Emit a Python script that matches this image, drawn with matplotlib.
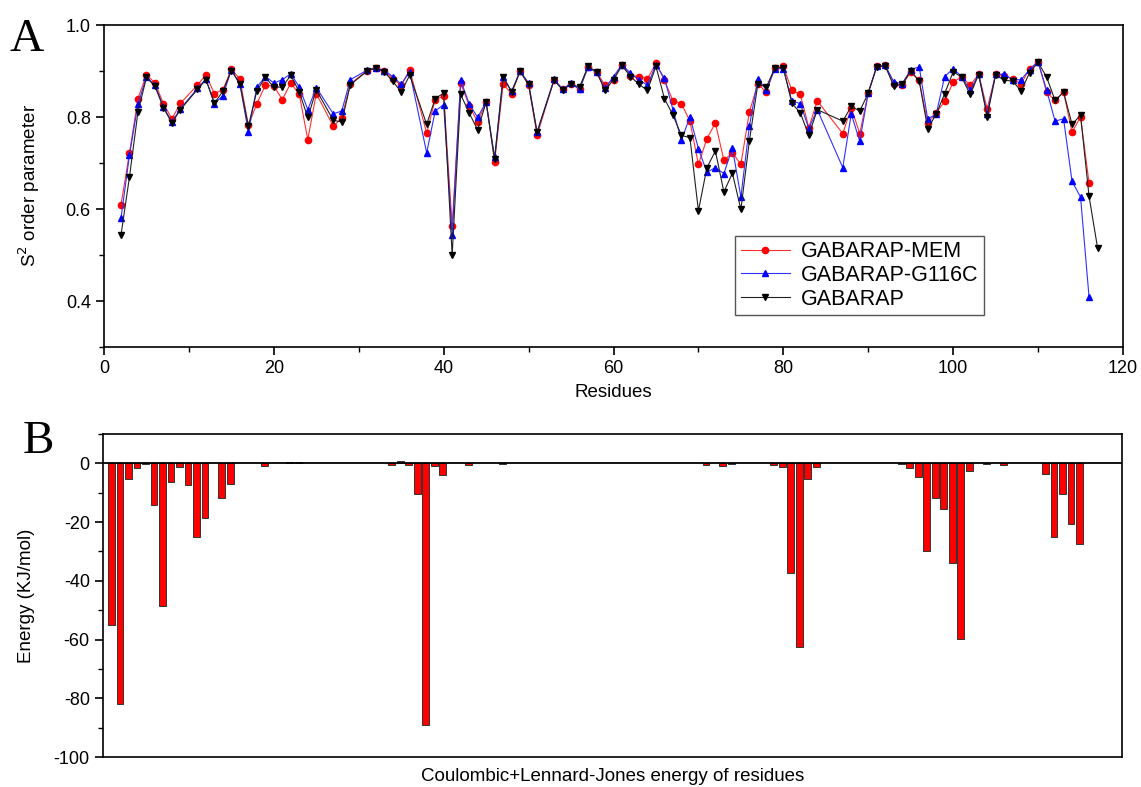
import matplotlib
matplotlib.use("Agg")
import matplotlib.pyplot as plt
from matplotlib.ticker import MultipleLocator
import numpy as np

# ---------------- data ----------------
residues_AB = [2, 3, 4, 5, 6, 7, 8, 9, 11, 12, 13, 14, 15, 16, 17, 18, 19, 20, 21, 22, 23, 24, 25,
               27, 28, 29, 31, 32, 33, 34, 35, 36, 38, 39, 40, 41, 42, 43, 44, 45, 46, 47, 48, 49,
               50, 51, 53, 54, 55, 56, 57, 58, 59, 60, 61, 62, 63, 64, 65, 66, 67, 68, 69, 70, 71,
               72, 73, 74, 75, 76, 77, 78, 79, 80, 81, 82, 83, 84, 87, 88, 89, 90, 91, 92, 93, 94,
               95, 96, 97, 98, 99, 100, 101, 102, 103, 104, 105, 106, 107, 108, 109, 110, 111, 112,
               113, 114, 115, 116]
residues_wt = residues_AB + [117]

s2_mem = [0.609, 0.722, 0.840, 0.892, 0.874, 0.829, 0.796, 0.830, 0.869, 0.892, 0.851, 0.859, 0.904,
          0.883, 0.782, 0.829, 0.869, 0.867, 0.838, 0.874, 0.849, 0.751, 0.851,
          0.780, 0.798, 0.872, 0.901, 0.907, 0.900, 0.883, 0.869, 0.903, 0.765, 0.838, 0.845,
          0.564, 0.874, 0.825, 0.789, 0.833, 0.702, 0.871, 0.851, 0.900,
          0.869, 0.760, 0.881, 0.861, 0.872, 0.861, 0.909, 0.898, 0.869, 0.881, 0.914, 0.890,
          0.888, 0.883, 0.917, 0.880, 0.835, 0.829, 0.791, 0.697, 0.753,
          0.787, 0.706, 0.722, 0.697, 0.811, 0.872, 0.854, 0.907, 0.910, 0.858, 0.849, 0.777,
          0.835, 0.764, 0.820, 0.764, 0.853, 0.910, 0.912, 0.872, 0.869,
          0.898, 0.880, 0.787, 0.809, 0.834, 0.876, 0.887, 0.869, 0.893, 0.818, 0.893, 0.890,
          0.883, 0.872, 0.905, 0.920, 0.854, 0.836,
          0.854, 0.767, 0.800, 0.657]

s2_g116c = [0.580, 0.717, 0.828, 0.887, 0.869, 0.822, 0.789, 0.818, 0.862, 0.883, 0.829, 0.846, 0.903,
            0.872, 0.767, 0.865, 0.888, 0.874, 0.881, 0.894, 0.865, 0.816, 0.864,
            0.807, 0.813, 0.881, 0.902, 0.907, 0.901, 0.888, 0.871, 0.898, 0.722, 0.813, 0.827,
            0.543, 0.880, 0.829, 0.799, 0.833, 0.712, 0.888, 0.856, 0.900,
            0.874, 0.767, 0.882, 0.861, 0.873, 0.860, 0.908, 0.897, 0.862, 0.888, 0.914, 0.895,
            0.881, 0.869, 0.914, 0.884, 0.816, 0.749, 0.801, 0.731, 0.680,
            0.690, 0.677, 0.733, 0.626, 0.780, 0.883, 0.859, 0.905, 0.905, 0.835, 0.829, 0.775,
            0.816, 0.690, 0.807, 0.747, 0.853, 0.910, 0.912, 0.877, 0.872,
            0.903, 0.909, 0.796, 0.806, 0.888, 0.905, 0.888, 0.858, 0.893, 0.807, 0.893, 0.893,
            0.881, 0.881, 0.903, 0.920, 0.859, 0.791,
            0.796, 0.660, 0.626, 0.409]

s2_wt = [0.543, 0.670, 0.811, 0.886, 0.867, 0.820, 0.787, 0.816, 0.860, 0.881, 0.830, 0.856, 0.901,
         0.872, 0.780, 0.857, 0.886, 0.865, 0.865, 0.891, 0.854, 0.799, 0.859,
         0.793, 0.789, 0.870, 0.900, 0.906, 0.898, 0.878, 0.854, 0.891, 0.784, 0.840, 0.852,
         0.499, 0.849, 0.809, 0.772, 0.832, 0.708, 0.887, 0.854, 0.899,
         0.871, 0.767, 0.880, 0.859, 0.871, 0.865, 0.910, 0.898, 0.858, 0.881, 0.912, 0.888,
         0.871, 0.858, 0.910, 0.840, 0.804, 0.760, 0.755, 0.596, 0.690,
         0.726, 0.637, 0.678, 0.599, 0.748, 0.872, 0.865, 0.907, 0.907, 0.830, 0.809, 0.760,
         0.816, 0.791, 0.823, 0.813, 0.852, 0.909, 0.911, 0.867, 0.872,
         0.900, 0.878, 0.775, 0.806, 0.851, 0.898, 0.887, 0.849, 0.892, 0.801, 0.892, 0.880,
         0.878, 0.857, 0.896, 0.919, 0.887, 0.836,
         0.854, 0.784, 0.804, 0.628, 0.516]

energy_pos = [1, 2, 3, 4, 5, 6, 7, 8, 9, 10, 11, 12, 14, 15, 19, 22, 23,
              34, 35, 36, 37, 38, 39, 40, 43, 47,
              71, 73, 74, 79, 80, 81, 82, 83, 84,
              94, 95, 96, 97, 98, 99, 100, 101, 102, 104, 106,
              111, 112, 113, 114, 115]
energy_val = [-55.0, -82.1, -5.3, -1.6, -0.3, -14.3, -48.7, -6.5, -1.1, -7.5, -25.1, -18.7, -11.9, -6.9, -0.9, 0.3, 0.3,
              -0.5, 0.9, -0.5, -10.5, -89.0, -0.9, -4.0, -0.7, -0.3,
              -0.5, -0.8, -0.3, -0.5, -1.2, -37.5, -62.6, -5.3, -1.1,
              -0.2, -1.7, -4.6, -30.0, -11.7, -15.6, -33.9, -59.7, -2.6, -0.3, -0.6,
              -3.6, -25.0, -10.5, -20.5, -27.6]

# ---------------- figure ----------------
plt.rcParams['font.family'] = ['Liberation Sans', 'DejaVu Sans']
plt.rcParams['axes.unicode_minus'] = False
W, H = 1141, 787
fig = plt.figure(figsize=(W / 100, H / 100), dpi=100)

axA = fig.add_axes([104 / W, 1 - 347 / H, 1019 / W, 322 / H])
axB = fig.add_axes([103 / W, 1 - 757 / H, 1019 / W, 323 / H])

# Panel A
axA.plot(residues_AB, s2_mem, color='#ff3030', lw=0.8, marker='o', ms=4.5,
         mfc='#ff0000', mec='#ff0000', label='GABARAP-MEM', zorder=3)
axA.plot(residues_AB, s2_g116c, color='#3030ff', lw=0.8, marker='^', ms=5,
         mfc='#0000ff', mec='#0000ff', label='GABARAP-G116C', zorder=4)
axA.plot(residues_wt, s2_wt, color='#202020', lw=0.8, marker='v', ms=5,
         mfc='black', mec='black', label='GABARAP', zorder=5)

axA.set_xlim(0, 120)
axA.set_ylim(0.3, 1.0)
axA.xaxis.set_major_locator(MultipleLocator(20))
axA.xaxis.set_minor_locator(MultipleLocator(10))
axA.yaxis.set_minor_locator(MultipleLocator(0.1))
axA.set_yticks([0.4, 0.6, 0.8, 1.0])
axA.tick_params(which='major', direction='out', length=6, width=1.2, labelsize=13)
axA.tick_params(which='minor', direction='out', length=3.5, width=1.0)
axA.set_xlabel('Residues', fontsize=13.5)
axA.set_ylabel('S$^2$ order parameter', fontsize=13.5)
axA.xaxis.set_label_coords(0.5, -0.115)
axA.yaxis.set_label_coords(-0.061, 0.5)
for sp in axA.spines.values():
    sp.set_linewidth(1.2)
leg = axA.legend(loc='lower left', bbox_to_anchor=(0.609, 0.066), fontsize=15.5,
                 fancybox=False, edgecolor='#555555', framealpha=1, handlelength=2.3,
                 borderpad=0.25, labelspacing=0.12, handletextpad=0.5)
leg.get_frame().set_linewidth(1.0)

# Panel B
axB.bar(energy_pos, energy_val, width=0.8, color='#ff0000', edgecolor='#333333',
        linewidth=0.7, zorder=3)
axB.axhline(0, color='black', lw=1.3, zorder=4)
axB.set_xlim(0, 120)
axB.set_ylim(-100, 10)
axB.set_xticks([])
axB.yaxis.set_major_locator(MultipleLocator(20))
axB.yaxis.set_minor_locator(MultipleLocator(10))
axB.tick_params(which='major', direction='out', length=6, width=1.2, labelsize=13)
axB.tick_params(which='minor', direction='out', length=3.5, width=1.0)
axB.set_ylabel('Energy (KJ/mol)', fontsize=13.5)
axB.yaxis.set_label_coords(-0.067, 0.5)
axB.set_xlabel('Coulombic+Lennard-Jones energy of residues', fontsize=13.5)
axB.xaxis.set_label_coords(0.5, -0.035)
for sp in axB.spines.values():
    sp.set_linewidth(1.2)

# Panel letters
fig.text(10 / W, 1 - 51 / H, 'A', fontsize=34, family='Liberation Serif', va='baseline')
fig.text(23 / W, 1 - 453 / H, 'B', fontsize=34, family='Liberation Serif', va='baseline')

fig.savefig('out.png', dpi=100)
